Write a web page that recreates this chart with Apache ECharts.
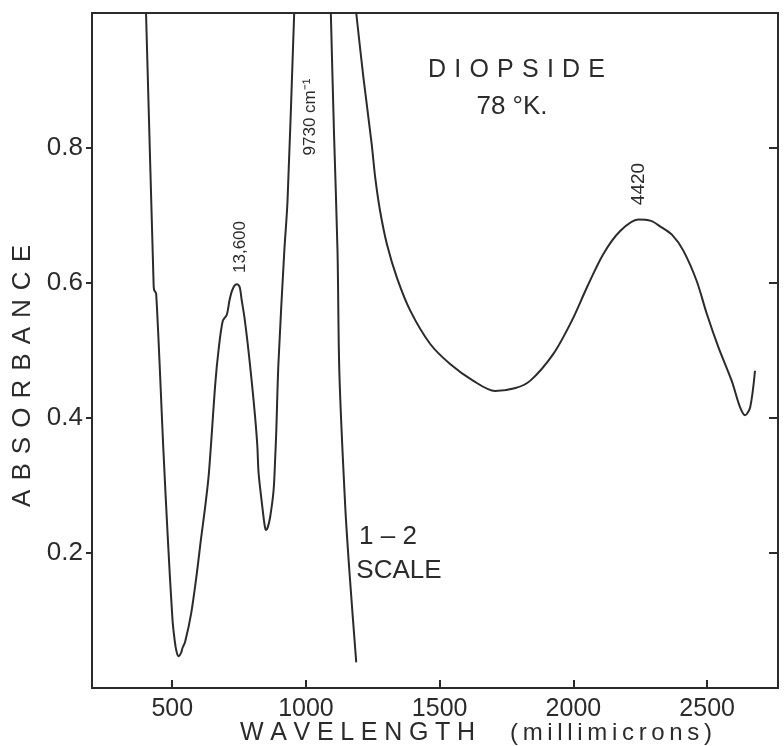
<!DOCTYPE html>
<html>
<head>
<meta charset="utf-8">
<style>
	html, body { margin: 0; padding: 0; background: #fff; }
	#chart { width: 784px; height: 746px; }
</style>
<script src="https://cdn.jsdelivr.net/npm/echarts@6/dist/echarts.min.js"></script>
</head>
<body>
<div id="chart"></div>
<script>
	// wavelength (millimicrons) / absorbance
	var leftBandNm = [402, 430, 432, 440, 467, 484, 501, 509, 515, 523, 533, 539, 548, 571, 592, 607, 623, 637, 661, 673, 689, 704, 714, 723, 733, 742, 752, 760, 770, 785, 798, 810, 818, 823, 837, 846, 851, 857, 866, 879, 885, 889, 897, 919, 931, 956]
	var leftBandAbs = [1.0, 0.603, 0.590, 0.584, 0.352, 0.218, 0.101, 0.071, 0.056, 0.047, 0.052, 0.060, 0.068, 0.111, 0.170, 0.219, 0.268, 0.318, 0.451, 0.500, 0.544, 0.553, 0.574, 0.588, 0.596, 0.598, 0.594, 0.574, 0.549, 0.500, 0.451, 0.401, 0.360, 0.318, 0.268, 0.240, 0.234, 0.238, 0.253, 0.293, 0.341, 0.380, 0.480, 0.647, 0.721, 1.0]

	// 9730 cm-1 band, 1-2 scale
	var scaleBandNm = [1093, 1105, 1118, 1125, 1147, 1163, 1188]
	var scaleBandAbs = [1.0, 0.820, 0.647, 0.466, 0.268, 0.170, 0.038]

	var rightBandNm = [1188, 1215, 1246, 1259, 1277, 1303, 1340, 1390, 1464, 1539, 1626, 1707, 1780, 1838, 1925, 1994, 2050, 2112, 2175, 2243, 2290, 2324, 2370, 2411, 2461, 2499, 2542, 2592, 2623, 2642, 2661, 2679]
	var rightBandAbs = [1.0, 0.904, 0.805, 0.756, 0.707, 0.657, 0.608, 0.559, 0.510, 0.480, 0.455, 0.440, 0.444, 0.455, 0.495, 0.544, 0.593, 0.643, 0.677, 0.694, 0.692, 0.684, 0.671, 0.648, 0.603, 0.554, 0.505, 0.455, 0.416, 0.404, 0.416, 0.470]

	var xTicks = [500, 1000, 1500, 2000, 2500]
	var yTicks = [0.2, 0.4, 0.6, 0.8]

	var ink = '#2b2b2b'
	var font = 'Liberation Sans'

	var measureCtx = document.createElement('canvas').getContext('2d')

	function pairs(xs, ys) {
		var out = []
		for (var i = 0; i < xs.length; i++) out.push([xs[i], ys[i]])
		return out
	}

	// letter-spaced text stretched over a given width, one element per letter
	function spaced(str, x, y, width, size, vertical) {
		measureCtx.font = size + 'px "' + font + '"'
		var widths = [], total = 0
		for (var i = 0; i < str.length; i++) {
			widths.push(measureCtx.measureText(str[i]).width)
			total += widths[i]
		}
		var track = (width - total) / (str.length - 1)
		var els = [], pos = 0
		for (var i = 0; i < str.length; i++) {
			els.push({
				type: 'text',
				x: vertical ? x : x + pos,
				y: vertical ? y - pos : y,
				rotation: vertical ? Math.PI / 2 : 0,
				style: {
					text: str[i], fill: ink, font: size + 'px "' + font + '"',
					align: 'left', verticalAlign: 'middle'
				}
			})
			pos += widths[i] + track
		}
		return els
	}

	function label(text, x, y, size, rot) {
		return {
			type: 'text', x: x, y: y, rotation: rot || 0,
			style: {
				text: text, fill: ink, font: size + 'px "' + font + '"',
				align: 'center', verticalAlign: 'middle'
			}
		}
	}

	function trace(data) {
		return {
			type: 'line',
			data: data,
			showSymbol: false,
			smooth: 0.3,
			lineStyle: { color: ink, width: 2 },
			silent: true
		}
	}

	var graphics = []
		.concat(spaced('ABSORBANCE', 23, 507, 262, 26, true))
		.concat(spaced('WAVELENGTH', 240, 733, 235, 25, false))
		.concat(spaced('(millimicrons)', 510, 733, 202, 24, false))
		.concat(spaced('DIOPSIDE', 428, 70, 177, 25, false))
		.concat([
			label('78 °K.', 512, 107, 26),
			label('13,600', 240, 247, 17, Math.PI / 2),
			label('9730 cm⁻¹', 310, 117, 17, Math.PI / 2),
			label('4420', 639, 184, 19, Math.PI / 2),
			label('1 – 2', 388, 537, 26),
			label('SCALE', 399, 571, 26)
		])

	var chart = echarts.init(document.getElementById('chart'))
	chart.setOption({
		backgroundColor: '#fff',
		animation: false,
		grid: {
			left: 92, right: 6, top: 13, bottom: 58,
			show: true, borderColor: ink, borderWidth: 2
		},
		xAxis: {
			type: 'value',
			min: 200,
			max: 2765,
			axisLine: { show: false },
			splitLine: { show: false },
			axisTick: { inside: true, length: 8, customValues: xTicks, lineStyle: { color: ink, width: 2 } },
			axisLabel: {
				customValues: xTicks, margin: 9, fontSize: 25, color: ink, fontFamily: font,
				formatter: function (v) { return String(v) }
			}
		},
		yAxis: [
			{
				type: 'value',
				min: 0,
				max: 1,
				axisLine: { show: false },
				splitLine: { show: false },
				axisTick: { length: 6, customValues: yTicks, lineStyle: { color: ink, width: 2 } },
				axisLabel: {
					customValues: yTicks, margin: 9, fontSize: 26, color: ink, fontFamily: font,
					formatter: function (v) { return v.toFixed(1) }
				}
			},
			{
				type: 'value',
				position: 'right',
				min: 0,
				max: 1,
				axisLine: { show: false },
				splitLine: { show: false },
				axisTick: { inside: true, length: 9, customValues: yTicks, lineStyle: { color: ink, width: 2 } },
				axisLabel: { show: false }
			}
		],
		series: [
			trace(pairs(leftBandNm, leftBandAbs)),
			trace(pairs(scaleBandNm, scaleBandAbs)),
			trace(pairs(rightBandNm, rightBandAbs))
		],
		graphic: graphics
	})
</script>
</body>
</html>
